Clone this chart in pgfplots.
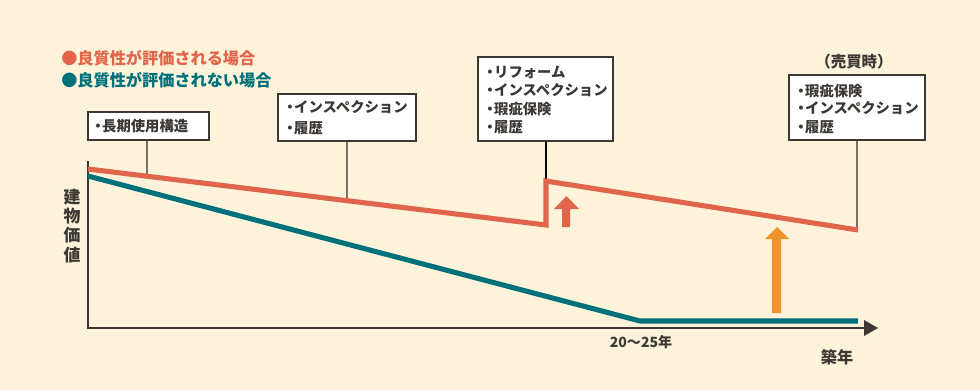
\documentclass[border=0pt]{standalone}
\usepackage{fontspec}
\setmainfont{Noto Sans CJK JP}
\usepackage{pgfplots}
\pgfplotsset{compat=1.18}
\definecolor{bg}{HTML}{FDF3DB}
\definecolor{orng}{HTML}{E0654A}
\definecolor{teal2}{HTML}{00707A}
\definecolor{amber}{HTML}{F0922B}
\definecolor{dark}{HTML}{3C3833}
\definecolor{conn}{HTML}{7A7066}
\newcommand{\dt}{\kern-0.3em・\kern-0.22em}
\begin{document}
\begin{tikzpicture}
\begin{axis}[
  width=24.5cm, height=9.75cm, scale only axis,
  xmin=0, xmax=980, ymin=0, ymax=390,
  hide axis, clip=false,
]
\fill[bg] (0,0) rectangle (980,390);
% legend
\node[anchor=west, inner sep=0, text=orng, font=\fontsize{11.5}{13}\selectfont\bfseries] at (61,332) {●良質性が評価される場合};
\node[anchor=west, inner sep=0, text=teal2, font=\fontsize{11.5}{13}\selectfont\bfseries] at (61,310) {●良質性が評価されない場合};
% connectors
\draw[conn, line width=0.9pt] (147,250) -- (147,212);
\draw[conn, line width=0.9pt] (347,249) -- (347,190);
\draw[black, line width=0.9pt] (546,249) -- (546,208);
\draw[conn, line width=0.9pt] (857,250) -- (857,161);
% boxes
\draw[dark, fill=white, line width=1.3pt] (88,278) rectangle (209,250);
\draw[dark, fill=white, line width=1.3pt] (278,296) rectangle (416,249);
\draw[dark, fill=white, line width=1.3pt] (478,333) rectangle (613,249);
\draw[dark, fill=white, line width=1.3pt] (789,315) rectangle (925,250);
\begin{scope}[every node/.style={anchor=west, inner sep=0, text=dark, font=\fontsize{10.2}{12}\selectfont\bfseries}]
\node at (95,264) {\dt 長期使用構造};
\node at (287,283) {\dt インスペクション};
\node at (287,262) {\dt 履歴};
\node at (487,318) {\dt リフォーム};
\node at (487,300) {\dt インスペクション};
\node at (487,281) {\dt 瑕疵保険};
\node at (487,263) {\dt 履歴};
\node at (798,299) {\dt 瑕疵保険};
\node at (798,282) {\dt インスペクション};
\node at (798,263) {\dt 履歴};
\end{scope}
\node[inner sep=0, text=dark, font=\fontsize{11}{12}\selectfont\bfseries] at (854,328) {（売買時）};
% axis lines
\draw[dark, line width=2.1pt] (88,229) -- (88,62) -- (866,62);
\fill[dark] (864,70) -- (878,62) -- (864,54) -- cycle;
% data lines
\addplot[teal2, line width=3.6pt, line join=miter] coordinates {(88,214) (640,69) (858,69)};
\addplot[orng, line width=3.6pt, line join=miter] coordinates {(88,221) (546,165) (546,209) (858,160)};
% arrows
\fill[orng] (562,163) -- (562,181) -- (554,181) -- (566.5,194) -- (579,181) -- (570,181) -- (570,163) -- cycle;
\fill[amber] (772,77) -- (772,151) -- (765,151) -- (777,163) -- (789,151) -- (781,151) -- (781,77) -- cycle;
% labels
\node[align=center, inner sep=0, text=dark, font=\fontsize{12}{13.6}\selectfont\bfseries] at (72,164) {建\\物\\価\\値};
\node[inner sep=0, text=dark, font=\fontsize{10}{12}\selectfont\bfseries] at (641,48) {20〜25年};
\node[inner sep=0, text=dark, font=\fontsize{11.5}{13}\selectfont\bfseries] at (837,33) {築年};
\end{axis}
\end{tikzpicture}
\end{document}
